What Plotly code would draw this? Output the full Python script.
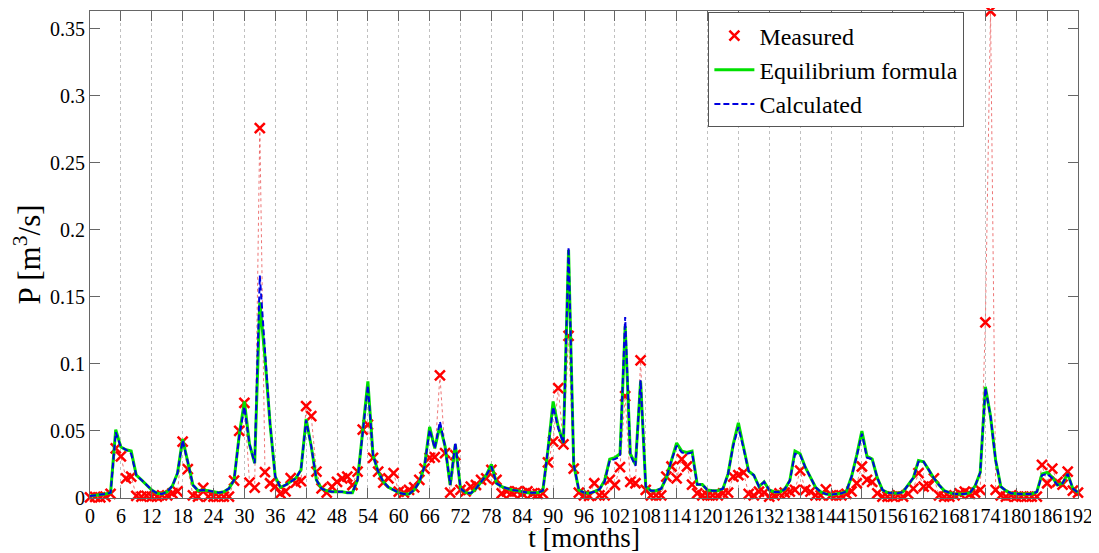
import plotly.graph_objects as go

months = list(range(0, 193))

measured = [
    0.0005, 0.0008, 0.0005, 0.001, 0.003, 0.037, 0.031, 0.0147, 0.016, 0.0015,
    0.001, 0.0015, 0.001, 0.001, 0.002, 0.002, 0.0035, 0.005, 0.042, 0.0215,
    0.002, 0.001, 0.0075, 0.001, 0.001, 0.001, 0.001, 0.001, 0.013, 0.050,
    0.071, 0.0115, 0.0077, 0.276, 0.0193, 0.011, 0.0085, 0.0035, 0.005, 0.0148,
    0.0115, 0.0125, 0.0685, 0.061, 0.0197, 0.0072, 0.004, 0.0085, 0.012, 0.0147,
    0.016, 0.0097, 0.0197, 0.051, 0.0547, 0.030, 0.0197, 0.0115, 0.0147, 0.0185,
    0.0047, 0.004, 0.006, 0.008, 0.0135, 0.022, 0.030, 0.0305, 0.0915, 0.0335,
    0.004, 0.032, 0.006, 0.005, 0.0085, 0.0097, 0.0135, 0.0147, 0.021, 0.0135,
    0.0035, 0.005, 0.004, 0.005, 0.0035, 0.005, 0.0035, 0.003, 0.0035, 0.0265,
    0.042, 0.082, 0.040, 0.121, 0.022, 0.004, 0.002, 0.0015, 0.011, 0.002,
    0.002, 0.0135, 0.0097, 0.023, 0.076, 0.012, 0.011, 0.1027, 0.006, 0.002,
    0.002, 0.002, 0.016, 0.0235, 0.0147, 0.029, 0.0235, 0.010, 0.0035, 0.002,
    0.002, 0.002, 0.002, 0.0035, 0.004, 0.016, 0.017, 0.019, 0.003, 0.002,
    0.0047, 0.004, 0.001, 0.002, 0.0035, 0.004, 0.0047, 0.006, 0.0205, 0.006,
    0.0047, 0.002, 0.002, 0.0065, 0.002, 0.002, 0.002, 0.003, 0.005, 0.011,
    0.0235, 0.0135, 0.012, 0.0035, 0.001, 0.001, 0.001, 0.002, 0.001, 0.003,
    0.007, 0.0185, 0.0085, 0.009, 0.0147, 0.002, 0.001, 0.001, 0.002, 0.0035,
    0.0047, 0.003, 0.004, 0.006, 0.131, 0.3633, 0.006, 0.002, 0.001, 0.002,
    0.001, 0.001, 0.001, 0.001, 0.001, 0.0247, 0.011, 0.022, 0.012, 0.010,
    0.0197, 0.0055, 0.004,
]

calculated = [
    0.0015, 0.002, 0.002, 0.003, 0.004, 0.049, 0.038, 0.036, 0.033, 0.017,
    0.0135, 0.0097, 0.006, 0.0035, 0.003, 0.0047, 0.009, 0.0185, 0.043, 0.027,
    0.0097, 0.0055, 0.006, 0.0055, 0.0047, 0.004, 0.0047, 0.007, 0.0135, 0.046,
    0.068, 0.040, 0.026, 0.166, 0.110, 0.055, 0.016, 0.008, 0.0097, 0.012,
    0.0147, 0.021, 0.058, 0.0385, 0.0135, 0.007, 0.0055, 0.0047, 0.0047, 0.0047,
    0.004, 0.004, 0.0135, 0.050, 0.084, 0.032, 0.0197, 0.012, 0.008, 0.006,
    0.004, 0.003, 0.003, 0.006, 0.012, 0.0235, 0.051, 0.037, 0.057, 0.0385,
    0.0097, 0.0415, 0.007, 0.004, 0.0035, 0.007, 0.012, 0.017, 0.0235, 0.011,
    0.0085, 0.007, 0.006, 0.0055, 0.0047, 0.004, 0.004, 0.004, 0.0055, 0.035,
    0.068, 0.052, 0.041, 0.187, 0.025, 0.006, 0.004, 0.0035, 0.0047, 0.0065,
    0.012, 0.028, 0.029, 0.031, 0.135, 0.032, 0.024, 0.088, 0.0085, 0.0055,
    0.0055, 0.007, 0.015, 0.028, 0.039, 0.034, 0.033, 0.034, 0.010, 0.010,
    0.006, 0.0055, 0.0055, 0.007, 0.018, 0.039, 0.053, 0.037, 0.020, 0.017,
    0.0085, 0.012, 0.006, 0.0045, 0.0045, 0.0065, 0.013, 0.033, 0.032, 0.023,
    0.015, 0.008, 0.0045, 0.003, 0.0025, 0.003, 0.0035, 0.005, 0.016, 0.031,
    0.048, 0.030, 0.029, 0.015, 0.006, 0.004, 0.0035, 0.0035, 0.0045, 0.0097,
    0.015, 0.027, 0.027, 0.021, 0.0147, 0.0097, 0.0055, 0.004, 0.003, 0.003,
    0.003, 0.004, 0.009, 0.019, 0.082, 0.061, 0.028, 0.0085, 0.0055, 0.0035,
    0.003, 0.003, 0.003, 0.003, 0.0045, 0.017, 0.018, 0.0147, 0.0097, 0.011,
    0.018, 0.007, 0.004,
]

equilibrium = [
    0.0015, 0.002, 0.002, 0.003, 0.004, 0.051, 0.038, 0.036, 0.035, 0.017,
    0.0135, 0.0097, 0.006, 0.0035, 0.003, 0.0047, 0.009, 0.0185, 0.044, 0.027,
    0.0097, 0.0055, 0.006, 0.0055, 0.0047, 0.004, 0.0047, 0.007, 0.0135, 0.047,
    0.072, 0.040, 0.026, 0.146, 0.105, 0.055, 0.016, 0.008, 0.0097, 0.012,
    0.0147, 0.021, 0.059, 0.0385, 0.0135, 0.007, 0.0055, 0.0047, 0.0047, 0.0047,
    0.004, 0.004, 0.0135, 0.051, 0.087, 0.032, 0.0197, 0.012, 0.008, 0.006,
    0.004, 0.003, 0.003, 0.006, 0.012, 0.0235, 0.053, 0.037, 0.054, 0.0385,
    0.0097, 0.040, 0.007, 0.004, 0.0035, 0.007, 0.012, 0.017, 0.025, 0.011,
    0.0085, 0.007, 0.006, 0.0055, 0.0047, 0.004, 0.004, 0.004, 0.0055, 0.036,
    0.072, 0.053, 0.041, 0.185, 0.025, 0.006, 0.004, 0.0035, 0.0047, 0.0065,
    0.013, 0.029, 0.030, 0.033, 0.128, 0.033, 0.025, 0.087, 0.0085, 0.0055,
    0.0055, 0.007, 0.015, 0.028, 0.041, 0.035, 0.034, 0.035, 0.010, 0.010,
    0.006, 0.0055, 0.0055, 0.007, 0.018, 0.040, 0.056, 0.038, 0.020, 0.017,
    0.0085, 0.012, 0.006, 0.0045, 0.0045, 0.0065, 0.013, 0.035, 0.033, 0.023,
    0.015, 0.008, 0.0045, 0.003, 0.0025, 0.003, 0.0035, 0.005, 0.016, 0.032,
    0.050, 0.031, 0.029, 0.015, 0.006, 0.004, 0.0035, 0.0035, 0.0045, 0.0097,
    0.015, 0.028, 0.027, 0.021, 0.0147, 0.0097, 0.0055, 0.004, 0.003, 0.003,
    0.003, 0.004, 0.009, 0.019, 0.083, 0.061, 0.028, 0.0085, 0.0055, 0.0035,
    0.003, 0.003, 0.003, 0.003, 0.0045, 0.018, 0.019, 0.0155, 0.0097, 0.011,
    0.018, 0.007, 0.004,
]

x_ticks = list(range(0, 193, 6))
x_tick_labels = [str(v) for v in x_ticks]
y_ticks = [0, 0.05, 0.1, 0.15, 0.2, 0.25, 0.3, 0.35]
y_tick_labels = ["0", "0.05", "0.1", "0.15", "0.2", "0.25", "0.3", "0.35"]

FONT = "Liberation Serif, Times New Roman, serif"

fig = go.Figure()
# dotted connecting line of the measured data (not in legend)
fig.add_trace(go.Scatter(
    x=months, y=measured, name="Measured", mode="lines", showlegend=False,
    line=dict(color="rgba(230,60,60,0.7)", width=1, dash="dot"),
    hoverinfo="skip",
))
fig.add_trace(go.Scatter(
    x=months, y=measured, name="Measured", mode="markers",
    marker=dict(symbol="x-thin", size=10, line=dict(color="#ff0000", width=2.5)),
    cliponaxis=False,
))
fig.add_trace(go.Scatter(
    x=months, y=equilibrium, name="Equilibrium formula", mode="lines",
    line=dict(color="#00e000", width=3),
))
fig.add_trace(go.Scatter(
    x=months, y=calculated, name="Calculated", mode="lines",
    line=dict(color="#0000e0", width=2, dash="6px,3px"),
))

# the page body adds an 8 px offset, so the figure is 8 px smaller
fig.update_layout(
    width=1091, height=545,
    margin=dict(l=82, r=21, t=3, b=55),
    paper_bgcolor="white", plot_bgcolor="white",
    font=dict(family=FONT, size=20, color="black"),
    showlegend=True,
    legend=dict(
        x=0.885, y=0.997, xanchor="right", yanchor="top",
        bgcolor="white", bordercolor="#555", borderwidth=1,
        font=dict(family=FONT, size=24, color="black"),
        tracegroupgap=0, itemwidth=40,
    ),
)
fig.update_xaxes(
    range=[0, 192], tickvals=x_ticks, ticktext=x_tick_labels, tickangle=0,
    showgrid=True, gridcolor="#c0c0c0", griddash="dot", gridwidth=1,
    showline=True, linecolor="#666", linewidth=1, mirror="ticks",
    ticks="inside", ticklen=10, tickcolor="#666",
    zeroline=False, automargin=False,
    tickfont=dict(family=FONT, size=20),
    title=dict(text="t [months]", font=dict(family=FONT, size=27), standoff=6),
)
fig.update_yaxes(
    range=[0, 0.3633], tickvals=y_ticks, ticktext=y_tick_labels,
    showgrid=False,
    showline=True, linecolor="#666", linewidth=1, mirror="ticks",
    ticks="inside", ticklen=10, tickcolor="#666",
    zeroline=False, automargin=False,
    tickfont=dict(family=FONT, size=20),
    title=dict(text="P [m<sup>3</sup>/s]", font=dict(family=FONT, size=31), standoff=4),
)

fig.write_html("out.html")
